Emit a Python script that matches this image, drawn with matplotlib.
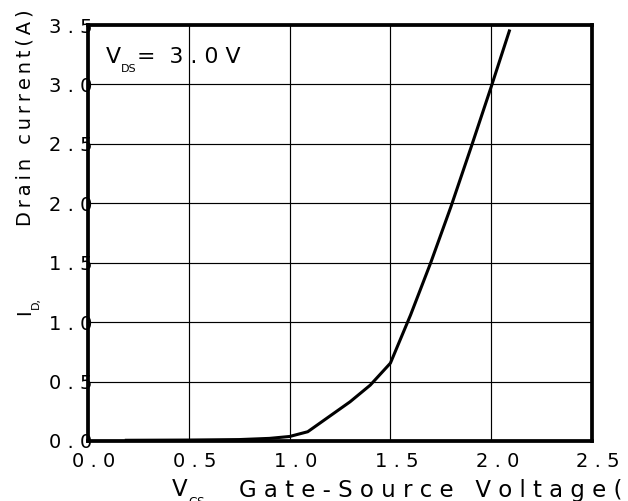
import matplotlib
matplotlib.use("Agg")
import matplotlib.pyplot as plt
from matplotlib.transforms import ScaledTranslation

plt.rcParams["font.family"] = ["DejaVu Sans"]

# transfer characteristic
vgs = [0.19, 0.5, 0.75, 0.9, 1.0, 1.09, 1.2, 1.3, 1.4, 1.5, 1.6, 1.7, 1.8, 1.9, 2.0, 2.09]
i_d = [0.006, 0.008, 0.012, 0.022, 0.038, 0.078, 0.21, 0.33, 0.47, 0.655, 1.06, 1.5, 1.97, 2.47, 2.98, 3.45]

x_ticks = [0.0, 0.5, 1.0, 1.5, 2.0, 2.5]
x_tick_labels = ["0 . 0", "0 . 5", "1 . 0", "1 . 5", "2 . 0", "2 . 5"]
y_ticks = [0.0, 0.5, 1.0, 1.5, 2.0, 2.5, 3.0, 3.5]
y_tick_labels = ["0 . 0", "0 . 5", "1 . 0", "1 . 5", "2 . 0", "2 . 5", "3 . 0", "3 . 5"]

W, H = 628, 501
fig = plt.figure(figsize=(W / 100, H / 100), dpi=100)
ax = fig.add_axes([88 / W, (H - 441) / H, (592 - 88) / W, (441 - 25) / H])

ax.plot(vgs, i_d, color="black", lw=2.2, zorder=3)
ax.set_xlim(0, 2.5)
ax.set_ylim(0, 3.5)
ax.set_xticks(x_ticks, x_tick_labels)
ax.set_yticks(y_ticks, y_tick_labels)
ax.grid(True, color="black", lw=0.85)
for sp in ax.spines.values():
    sp.set_linewidth(2.7)
    sp.set_zorder(4)

ax.tick_params(length=0, labelsize=14, labelcolor="black")
ax.tick_params(axis="x", pad=8.2)
ax.tick_params(axis="y", pad=-3.2)
shift = ScaledTranslation(6 / 100, 0, fig.dpi_scale_trans)
for lab in ax.get_xticklabels():
    lab.set_transform(lab.get_transform() + shift)

# V_DS annotation inside the plot
t_v = fig.text(106 / W, (H - 63) / H, "V", fontsize=15.8, ha="left", va="baseline")
t_ds = ax.annotate("DS", xy=(1, 0), xycoords=t_v, xytext=(0, 2.3),
                   textcoords="offset points", fontsize=8, ha="left", va="top")
ax.annotate("=  3 . 0 V", xy=(1, 0), xycoords=(t_ds, t_v), xytext=(0.5, 0),
            textcoords="offset points", fontsize=15.8, ha="left", va="bottom")

# y label: I_D, Drain current(A)
t_i = fig.text(34.6 / W, 186 / H, "I", fontsize=14, rotation=90, ha="right", va="bottom")
ax.annotate("D,", xy=(1, 1), xycoords=t_i, xytext=(-2.8, 0),
            textcoords="offset points", fontsize=8, rotation=90, ha="left", va="bottom")
thin = "\u2009"
ylab = (thin.join("Drain") + thin + " " + thin + thin.join("current(A)"))
ax.annotate(ylab, xy=(1, H - 226), xycoords=(t_i, "figure pixels"),
            fontsize=14, rotation=90, ha="right", va="bottom")

# x label: V_GS, Gate-Source Voltage(V) (runs off the right edge as in the original)
t_vg = fig.text(172 / W, 4.5 / H, "V", fontsize=16.5, ha="left", va="baseline")
ax.annotate("GS,", xy=(1, 0), xycoords=t_vg, xytext=(0.5, 4.1),
            textcoords="offset points", fontsize=8.5, ha="left", va="top")
fig.text(239 / W, 4.5 / H, "G a t e - S o u r c e   V o l t a g e ( V )",
         fontsize=16.5, ha="left", va="baseline")

fig.savefig("out.png", dpi=100)
